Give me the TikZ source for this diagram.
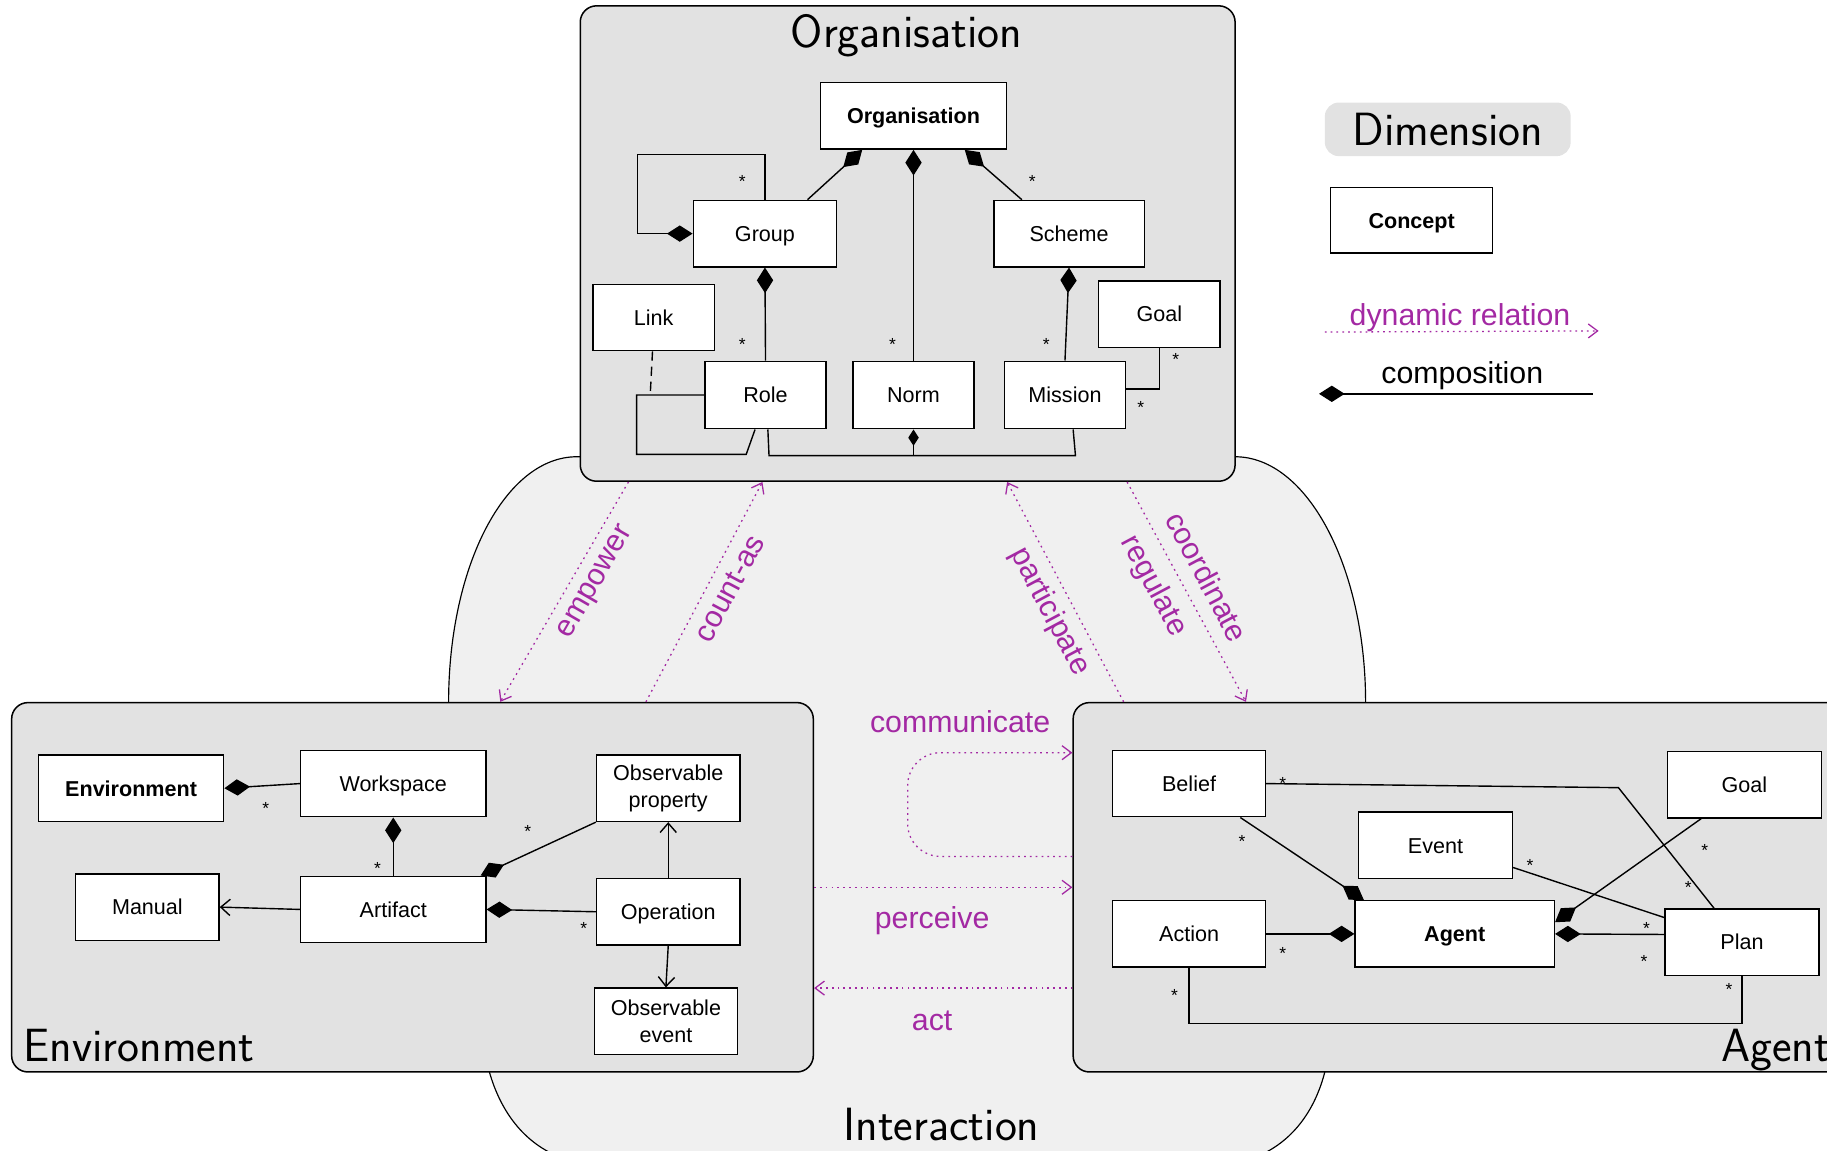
\documentclass[tikz,border=0pt]{standalone}
\usepackage{fontspec}
\newfontfamily\cfont{Liberation Sans}
\usetikzlibrary{arrows.meta,calc}
\definecolor{dimgray}{HTML}{E2E2E2}
\definecolor{intgray}{HTML}{F0F0F0}
\definecolor{dynpurple}{RGB}{163,41,163}
\begin{document}
\begin{tikzpicture}[x=1pt,y=-1pt,
  sz/.style 2 args={minimum width=#1pt, minimum height=#2pt},
  concepttwo/.style={draw, fill=white, line width=1.2pt, inner sep=0pt, align=center, font=\cfont\fontsize{18.5}{23}\selectfont},
  concept/.style={concepttwo, text height=13.5pt, text depth=0pt},
  dimbox/.style={draw, fill=dimgray, line width=1.3pt, rounded corners=14pt},
  headfont/.style={font=\sffamily\fontsize{40}{48}\selectfont, inner sep=0pt},
  comp/.style={line width=1.2pt, -{Diamond[length=22pt,width=14pt]}},
  assoc/.style={line width=1.2pt, -{Straight Barb[length=8pt,width=14pt]}},
  plain/.style={line width=1.2pt},
  dyn/.style={dynpurple, line width=1.1pt, dash pattern=on 1.5pt off 3.5pt, -{Straight Barb[length=8pt,width=12pt]}},
  dynlabel/.style={text=dynpurple, font=\cfont\fontsize{26}{26}\selectfont, inner sep=0pt},
  star/.style={font=\cfont\fontsize{15}{15}\selectfont, inner sep=0pt, yshift=-3.5pt}
]
\useasboundingbox (0,0) rectangle (1568,987);

% Interaction dimension
\draw[fill=intgray, line width=1pt] (495,392) .. controls (434,392) and (385,485) .. (385,603)
  -- (420,920) .. controls (430,955) and (450,980) .. (478,992) -- (1080,992)
  .. controls (1108,980) and (1128,955) .. (1137,920) -- (1172,603)
  .. controls (1172,487) and (1122,392) .. (1060,392) -- cycle;
\node[headfont, anchor=base] (inttitle) at (808,979) {Interaction};

% Dimension boxes
\node[dimbox, sz={562}{408}] (orgbox) at (779,209) {};
\node[dimbox, sz={688}{317}] (envbox) at (354,761.5) {};
\node[dimbox, sz={679}{317}] (agentbox) at (1260.5,761.5) {};
\node[headfont, anchor=base] (orgtitle) at (778,41) {Organisation};
\node[headfont, anchor=base west] (envtitle) at (20,911) {Environment};
\node[headfont, anchor=base west] (agenttitle) at (1477,911) {Agent};

% Organisation concepts
\node[concept, sz={160}{57}] (orgC) at (784,99.5) {\textbf{Organisation}};
\node[concept, sz={123}{57}] (group) at (656.5,200.5) {Group};
\node[concept, sz={129}{57}] (scheme) at (917.5,200.5) {Scheme};
\node[concept, sz={104}{57}] (link) at (561,272.5) {Link};
\node[concept, sz={104}{57}] (ogoal) at (995,269.5) {Goal};
\node[concept, sz={104}{58}] (role) at (657,339) {Role};
\node[concept, sz={104}{58}] (norm) at (784,339) {Norm};
\node[concept, sz={104}{58}] (mission) at (914,339) {Mission};

% Environment concepts
\node[concept, sz={159}{57}] (envC) at (112.5,676.5) {\textbf{Environment}};
\node[concept, sz={159}{57}] (workspace) at (337.5,672.5) {Workspace};
\node[concepttwo, sz={123}{57}] (obsprop) at (573.5,676.5) {Observable\\property};
\node[concept, sz={123}{57}] (manual) at (126.5,778.5) {Manual};
\node[concept, sz={159}{57}] (artifact) at (337.5,780.5) {Artifact};
\node[concept, sz={123}{57}] (operation) at (573.5,782.5) {Operation};
\node[concepttwo, sz={123}{57}] (obsevent) at (571.5,876.5) {Observable\\event};

% Agent concepts
\node[concept, sz={131}{57}] (belief) at (1020.5,672.5) {Belief};
\node[concept, sz={132}{57}] (agoal) at (1497,673.5) {Goal};
\node[concept, sz={132}{57}] (event) at (1232,725.5) {Event};
\node[concept, sz={131}{57}] (action) at (1020.5,801.5) {Action};
\node[concept, sz={171}{57}] (agentC) at (1248.5,801.5) {\textbf{Agent}};
\node[concept, sz={132}{57}] (plan) at (1495,808.5) {Plan};

% Organisation connectors
\draw[comp] ([xshift=36.5pt]group.north) -- ([xshift=-44pt]orgC.south);
\draw[comp] (norm.north) -- (orgC.south);
\draw[comp] ([xshift=-40.5pt]scheme.north) -- ([xshift=44pt]orgC.south);
\draw[comp] (role.north) -- (group.south);
\draw[comp] (mission.north) -- (scheme.south);
\draw[comp] (group.north) -- ++(0,-39) -- ++(-109.5,0) |- (group.west);
\draw[plain] (ogoal.south) |- ([yshift=5pt]mission.east);
\draw[plain] (role.west) -- ++(-58,0) -- ++(0,51) -- ++(94,0) -- ([xshift=-9pt]role.south);
\draw[plain, dash pattern=on 8pt off 5pt] ([xshift=-1pt]link.south) -- ++(-2,38);
\draw[plain] ([xshift=2pt]role.south) -- (660,391) -- (923,391) -- ([xshift=7pt]mission.south);
\draw[line width=1.2pt, -{Diamond[length=14pt,width=9pt]}] (norm.south |- 0,391) -- (norm.south);

% Environment connectors
\draw[comp] (workspace.west) -- (envC.east);
\draw[comp] (artifact.north) -- (workspace.south);
\draw[comp] (obsprop.south west) -- ([xshift=75pt]artifact.north);
\draw[comp] (operation.west) -- (artifact.east);
\draw[assoc] (artifact.west) -- (manual.east);
\draw[assoc] (operation.north) -- (obsprop.south);
\draw[assoc] (operation.south) -- (obsevent.north);

% Agent connectors
\draw[plain] (belief.east) -- (1389,676) -- ([xshift=-24pt]plan.north);
\draw[comp] ([xshift=44pt]belief.south) -- ([xshift=-78pt]agentC.north);
\draw[plain] ([yshift=-19pt]event.east) -- ([yshift=21pt]plan.west);
\draw[comp] ([xshift=-37pt]agoal.south) -- ([yshift=10pt]agentC.east);
\draw[comp] ([yshift=6.5pt]plan.west) -- (agentC.east);
\draw[comp] (action.east) -- (agentC.west);
\draw[plain] (action.south) -- ++(0,48) -| (plan.south);

% Stars
\foreach \n/\p in {s1/{637,152}, s2/{886,152}, s3/{637,292}, s4/{766,292}, s5/{898,292}, s6/{1009,305}, s7/{979,346},
  s8/{228,690}, s9/{324,742}, s10/{453,710}, s11/{501,793},
  s12/{1101,669}, s13/{1066,719}, s14/{1313,739}, s15/{1463,726}, s16/{1449,758}, s17/{1413,793}, s18/{1411,822}, s19/{1101,815}, s20/{1008,851}, s21/{1484,846}}
  \node[star] (\n) at (\p) {*};

% Dynamic relations
\draw[dyn] ([xshift=42pt]orgbox.south west) -- ([xshift=420pt]envbox.north west);
\draw[dyn] ([xshift=545pt]envbox.north west) -- ([xshift=157pt]orgbox.south west);
\draw[dyn] ([xshift=44pt]agentbox.north west) -- ([xshift=367pt]orgbox.south west);
\draw[dyn] ([xshift=470pt]orgbox.south west) -- ([xshift=149pt]agentbox.north west);
\draw[dyn, rounded corners=28pt] ([yshift=26.5pt]agentbox.west) -- (779,735) -- (779,646) -- ([yshift=115.5pt]agentbox.west);
\draw[dyn] (envbox.east) -- (agentbox.west);
\draw[dyn] ([yshift=-86.5pt]agentbox.west) -- ([yshift=-86.5pt]envbox.east);

\node[dynlabel, rotate=60] (lempower) at (512,500) {empower};
\node[dynlabel, rotate=62] (lcountas) at (626,505) {count-as};
\node[dynlabel, rotate=-62] (lparticipate) at (901,525) {participate};
\node[dynlabel, rotate=-62] (lregulate) at (990,503) {regulate};
\node[dynlabel, rotate=-62] (lcoordinate) at (1036,495) {coordinate};
\node[dynlabel] (lcommunicate) at (824,619) {communicate};
\node[dynlabel] (lperceive) at (800,790) {perceive};
\node[dynlabel] (lact) at (800,876) {act};

% Legend
\node[fill=dimgray, rounded corners=12pt, headfont, sz={211}{46}] (legdim) at (1242.5,111) {Dimension};
\node[concept, sz={139}{56}] (legconcept) at (1211.5,189) {\textbf{Concept}};
\coordinate (dynA) at (1137,285);
\coordinate (dynB) at (1372,284);
\draw[dyn] (dynA) -- (dynB);
\node[dynlabel] (ldyn) at (1253,273) {dynamic relation};
\coordinate (compA) at (1132,338);
\coordinate (compB) at (1367,338);
\draw[line width=1.2pt, {Diamond[length=22pt,width=14pt]}-] (compA) -- (compB);
\node[font=\cfont\fontsize{26}{26}\selectfont, inner sep=0pt] (lcomp) at (1255,322) {composition};
\end{tikzpicture}
\end{document}
